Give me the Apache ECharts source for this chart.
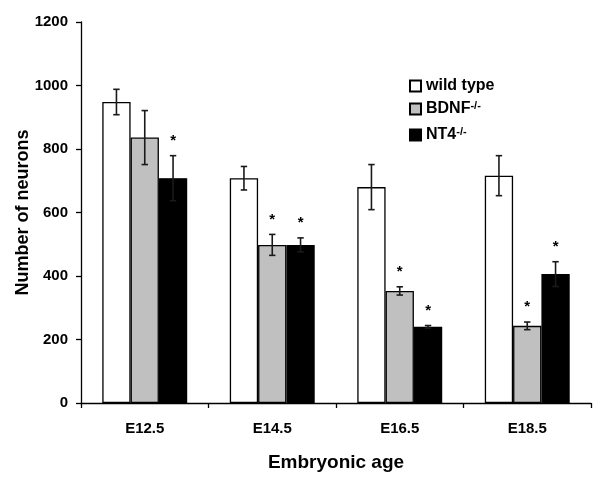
<!DOCTYPE html>
<html>
<head>
<meta charset="utf-8">
<script src="https://cdn.jsdelivr.net/npm/echarts@6/dist/echarts.min.js"></script>
<style>html,body{margin:0;padding:0;background:#fff}#c{width:600px;height:488px}</style>
</head>
<body>
<div id="c"></div>
<script>
const categories = ['E12.5', 'E14.5', 'E16.5', 'E18.5'];
const yTicks = [0, 200, 400, 600, 800, 1000, 1200];
const seriesNames = ['wild type', 'BDNF', 'NT4'];
const wildType = [948, 708, 680, 716];
const wildTypeErr = [40, 37, 71, 63];
const wildTypeSig = [0, 0, 0, 0];
const bdnf = [836, 498, 353, 243];
const bdnfErr = [85, 33, 13, 12];
const bdnfSig = [0, 1, 1, 1];
const nt4 = [708, 498, 240, 406];
const nt4Err = [71, 22, 4, 39];
const nt4Sig = [1, 1, 1, 1];

const FONT = '"Liberation Sans", Arial, sans-serif';
const colors = ['#ffffff', '#c0c0c0', '#000000'];
const values = [wildType, bdnf, nt4];
const errs = [wildTypeErr, bdnfErr, nt4Err];
const sigs = [wildTypeSig, bdnfSig, nt4Sig];
const BAR_FRAC = 0.222;

const chart = echarts.init(document.getElementById('c'), null, {renderer: 'canvas'});

const series = [];
seriesNames.forEach((n, i) => {
  series.push({
    name: n,
    type: 'bar',
    data: values[i],
    barWidth: (BAR_FRAC * 100) + '%',
    barGap: '0%',
    itemStyle: {color: colors[i], borderColor: '#000', borderWidth: 1.3},
    emphasis: {disabled: true},
    z: 2
  });
});
seriesNames.forEach((n, i) => {
  series.push({
    type: 'custom',
    name: n + '_err',
    z: 5,
    silent: true,
    data: categories.map((c, k) => [k, values[i][k], errs[i][k], sigs[i][k]]),
    encode: {x: 0, y: 1},
    renderItem: function (params, api) {
      const k = api.value(0), v = api.value(1), e = api.value(2), s = api.value(3);
      const band = api.size([1, 0])[0];
      const off = (i - 1) * band * BAR_FRAC;
      const top = api.coord([k, v + e]);
      const bot = api.coord([k, v - e]);
      const x = top[0] + off;
      const cap = 3.2;
      const st = {stroke: '#1a1a1a', lineWidth: 1.6};
      const children = [
        {type: 'line', shape: {x1: x, y1: top[1], x2: x, y2: bot[1]}, style: st},
        {type: 'line', shape: {x1: x - cap, y1: top[1], x2: x + cap, y2: top[1]}, style: st},
        {type: 'line', shape: {x1: x - cap, y1: bot[1], x2: x + cap, y2: bot[1]}, style: st}
      ];
      if (s) {
        children.push({type: 'text', style: {text: '*', x: x, y: top[1] - 15, textAlign: 'center', textVerticalAlign: 'middle', font: 'bold 15px ' + FONT, fill: '#000'}});
      }
      return {type: 'group', children: children};
    }
  });
});

chart.setOption({
  animation: false,
  backgroundColor: '#fff',
  grid: {left: 81, right: 9, top: 22, bottom: 85, containLabel: false},
  legend: {
    data: seriesNames,
    orient: 'vertical',
    left: 404,
    top: 73,
    icon: 'rect',
    itemWidth: 11,
    itemHeight: 11,
    itemGap: 6,
    selectedMode: false,
    textStyle: {
      fontFamily: FONT, fontWeight: 'bold', fontSize: 16, color: '#000',
      rich: {
        b: {fontFamily: FONT, fontWeight: 'bold', fontSize: 16, color: '#000', lineHeight: 18},
        s: {fontFamily: FONT, fontWeight: 'bold', fontSize: 11, color: '#000', lineHeight: 18, verticalAlign: 'top', padding: [0, 0, 9, 0]}
      }
    },
    formatter: function (n) {
      if (n === 'wild type') return '{b|wild type}';
      return '{b|' + n + '}{s|-/-}';
    }
  },
  xAxis: {
    type: 'category',
    data: categories,
    boundaryGap: true,
    axisLine: {lineStyle: {color: '#000', width: 1.3}},
    axisTick: {show: true, alignWithLabel: false, length: 5, inside: false, lineStyle: {color: '#000', width: 1.3}},
    axisLabel: {fontFamily: FONT, fontWeight: 'bold', fontSize: 15, color: '#000', margin: 18},
    name: 'Embryonic age',
    nameLocation: 'middle',
    nameGap: 50,
    nameMoveOverlap: false,
    nameTextStyle: {fontFamily: FONT, fontWeight: 'bold', fontSize: 19, color: '#000'},
    splitLine: {show: false}
  },
  yAxis: {
    type: 'value',
    min: yTicks[0],
    max: yTicks[yTicks.length - 1],
    interval: yTicks[1] - yTicks[0],
    axisLine: {show: true, lineStyle: {color: '#000', width: 1.3}},
    axisTick: {show: true, length: 5, lineStyle: {color: '#000', width: 1.3}},
    axisLabel: {fontFamily: FONT, fontWeight: 'bold', fontSize: 15, color: '#000', margin: 13, formatter: v => String(v)},
    splitLine: {show: false},
    name: 'Number of neurons',
    nameLocation: 'middle',
    nameGap: 49,
    nameMoveOverlap: false,
    nameTextStyle: {fontFamily: FONT, fontWeight: 'bold', fontSize: 18, color: '#000'}
  },
  series: series
});
</script>
</body>
</html>
